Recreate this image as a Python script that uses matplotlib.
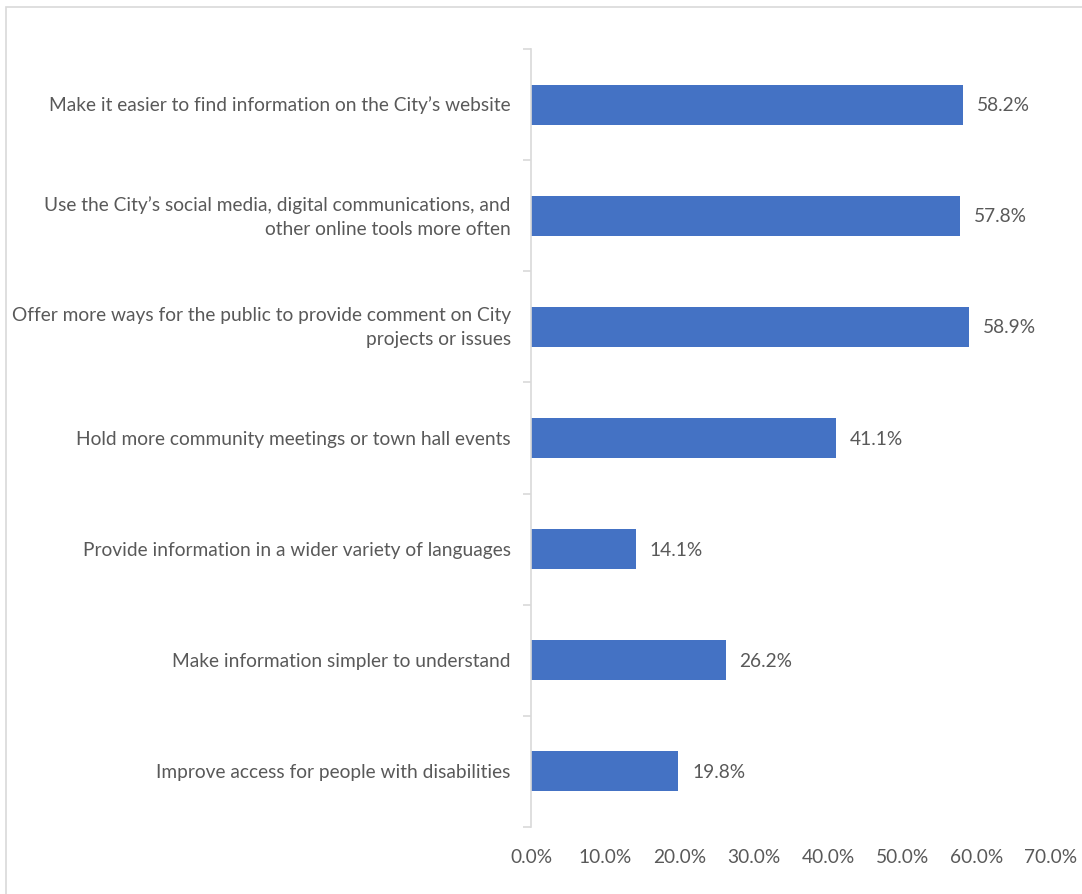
import matplotlib
matplotlib.use("Agg")
import matplotlib.pyplot as plt
from matplotlib.patches import Rectangle
from matplotlib.ticker import FuncFormatter

categories = [
    "Make it easier to find information on the City\u2019s website",
    "Use the City\u2019s social media, digital communications, and\nother online tools more often",
    "Offer more ways for the public to provide comment on City\nprojects or issues",
    "Hold more community meetings or town hall events",
    "Provide information in a wider variety of languages",
    "Make information simpler to understand",
    "Improve access for people with disabilities",
]
values = [58.2, 57.8, 58.9, 41.1, 14.1, 26.2, 19.8]
x_ticks = [0, 10, 20, 30, 40, 50, 60, 70]

BAR = "#4472C4"
TEXT = "#595959"
GRID = "#D9D9D9"
FS = 13.8

plt.rcParams["font.family"] = ["Lato", "DejaVu Sans"]

W, H = 1082, 895
fig = plt.figure(figsize=(W / 100, H / 100), dpi=100)

# chart-area frame
fig.patches.append(Rectangle((5.5 / W, -0.1), 1.2, 1 - 7.5 / H + 0.1,
                             transform=fig.transFigure, fill=False,
                             edgecolor=GRID, linewidth=1.2))

ax = fig.add_axes([531 / W, 1 - 828 / H, (1051 - 531) / W, (828 - 50) / H])

n = len(categories)
ypos = list(range(n))
ax.barh(ypos, values, height=0.36, color=BAR, zorder=2)
ax.set_ylim(n - 0.5, -0.5)
ax.set_xlim(0, 70)

for y, v in zip(ypos, values):
    ax.annotate(f"{v:.1f}%", (v, y), xytext=(10, 0), textcoords="offset points",
                va="center", ha="left", fontsize=FS, color=TEXT)

ax.set_xticks(x_ticks)
ax.xaxis.set_major_formatter(FuncFormatter(lambda x, p: f"{x:.1f}%"))
ax.tick_params(axis="x", length=0, labelsize=FS, labelcolor=TEXT, pad=15)

ax.set_yticks(ypos)
ax.set_yticklabels(categories, fontsize=FS, color=TEXT, linespacing=1.5)
for lbl in ax.get_yticklabels():
    lbl.set_verticalalignment("center")
ax.set_yticks([i - 0.5 for i in range(n + 1)], minor=True)
ax.tick_params(axis="y", which="major", length=0, pad=14.5)
ax.tick_params(axis="y", which="minor", length=6, color=GRID, width=1.2)

for s in ["top", "right", "bottom"]:
    ax.spines[s].set_visible(False)
ax.spines["left"].set_color(GRID)
ax.spines["left"].set_linewidth(1.2)

fig.savefig("out.png", dpi=100)
